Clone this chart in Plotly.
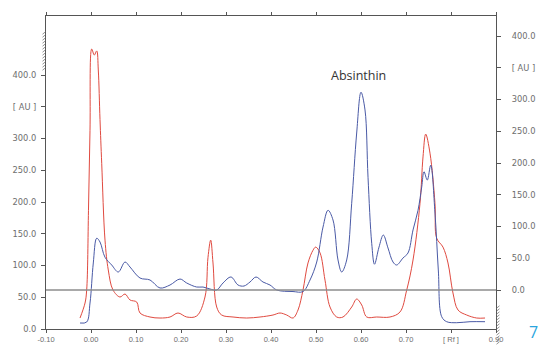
import plotly.graph_objects as go

# Red track (Rf, AU)
red_x = [-0.0244, -0.0133, -0.0096, -0.0056, -0.0022, 0.0016, 0.0073, 0.0127, 0.0162, 0.0200, 0.0238,
         0.0311, 0.0384, 0.0489, 0.0644, 0.0756, 0.0867, 0.1016, 0.1089, 0.1311, 0.1533, 0.1756,
         0.1933, 0.2127, 0.2349, 0.2533, 0.2600, 0.2660, 0.2711, 0.2793, 0.2904, 0.3156, 0.3460,
         0.3756, 0.4044, 0.4200, 0.4349, 0.4489, 0.4600, 0.4711, 0.4822, 0.4933, 0.4993, 0.5089,
         0.5200, 0.5311, 0.5460, 0.5600, 0.5793, 0.5904, 0.6016, 0.6127, 0.6349, 0.6644, 0.6867,
         0.7016, 0.7156, 0.7311, 0.7378, 0.7438, 0.7533, 0.7644, 0.7682, 0.7822, 0.7933, 0.8044,
         0.8156, 0.8349, 0.8571, 0.8756]
red_y = [17.3, 40.9, 61.4, 187, 313, 441, 431.5, 438, 408, 330, 261,
         140, 93, 61.4, 50.4, 55.1, 45.7, 42.5, 25.2, 18.9, 17.3, 18.9,
         25.2, 18.9, 20.5, 50.4, 113, 140, 104, 34.6, 22, 18.9, 17.3,
         18.9, 22, 25.2, 22, 17.3, 29.9, 61.4, 104, 124, 129, 120,
         77, 34.6, 18.9, 18.9, 34.6, 47.2, 37.8, 18.9, 18.9, 18.9, 26.8,
         61.4, 108.7, 198, 271, 307, 277, 198, 143, 129, 104, 56.7,
         29.9, 22, 17.3, 17.3]

# Blue track (Rf, AU)
blue_x = [-0.0244, -0.0096, -0.0022, 0.0051, 0.0127, 0.0200, 0.0311, 0.0460, 0.0607, 0.0756, 0.0867,
          0.1089, 0.1311, 0.1533, 0.1756, 0.1978, 0.2127, 0.2349, 0.2489, 0.2644, 0.2793, 0.2933,
          0.3111, 0.3267, 0.3400, 0.3533, 0.3667, 0.3822, 0.3978, 0.4127, 0.4489, 0.4711, 0.4867,
          0.5016, 0.5156, 0.5267, 0.5378, 0.5489, 0.5571, 0.5682, 0.5793, 0.5904, 0.6000, 0.6089,
          0.6156, 0.6238, 0.6300, 0.6400, 0.6496, 0.6600, 0.6711, 0.6793, 0.6933, 0.7044, 0.7156,
          0.7267, 0.7349, 0.7400, 0.7473, 0.7549, 0.7644, 0.7718, 0.7793, 0.7904, 0.8127, 0.8422,
          0.8756]
blue_y = [9.4, 11, 40.9, 104, 143, 137, 113, 100.8, 89.8, 105.5, 97.6,
          80.3, 77.2, 64.6, 69.3, 78.7, 72.4, 66.1, 66.1, 63, 61.4, 72.4,
          81.9, 69.3, 67.7, 74, 81.9, 74, 69.3, 61.4, 59, 59, 77.2,
          105.5, 160.6, 187, 171.7, 108.7, 89.8, 108.7, 198, 308.7, 373, 345,
          239, 135, 102, 129, 148, 127.6, 105.5, 100.8, 111.8, 119.7, 156,
          187, 223.6, 247.7, 234.6, 258, 182.7, 93, 19.4, 11.5, 9.9, 11.5,
          11.5]

x_ticks = [-0.10, 0.00, 0.10, 0.20, 0.30, 0.40, 0.50, 0.60, 0.70, 0.80, 0.90]
x_labels = ["-0.10", "0.00", "0.10", "0.20", "0.30", "0.40", "0.50", "0.60", "0.70", "[ Rf ]", "0.90"]
y_ticks = [0, 50, 100, 150, 200, 250, 300, 350, 400]
y_labels = ["0.0", "50.0", "100.0", "150.0", "200.0", "250.0", "300.0", "[ AU ]", "400.0"]

AX = "#555555"
LBL = "#6e6e6e"
TFX = dict(family="Liberation Sans, Arial, sans-serif", size=7.5, color=LBL)
TFY = dict(family="DejaVu Sans, Verdana, sans-serif", size=8.3, color=LBL)

fig = go.Figure()
fig.add_trace(go.Scatter(x=red_x, y=red_y, mode="lines", line=dict(color="#e04a40", width=1),
                         line_shape="spline", showlegend=False, hoverinfo="skip"))
fig.add_trace(go.Scatter(x=blue_x, y=blue_y, mode="lines", line=dict(color="#4a5aa6", width=1),
                         line_shape="spline", showlegend=False, hoverinfo="skip"))
# invisible trace to activate right axis
fig.add_trace(go.Scatter(x=[0.9], y=[0], yaxis="y2", mode="markers", marker=dict(opacity=0),
                         showlegend=False, hoverinfo="skip"))

# baseline of right scale
fig.add_shape(type="line", xref="paper", x0=0, x1=1, yref="y2", y0=0, y1=0,
              line=dict(color="#8c8c8c", width=1.5))

# hatch marks on axes
W, H = 450.0, 313.0
for i in range(13):
    py = 17 + i * 3.0
    fig.add_shape(type="line", xref="paper", yref="paper",
                  x0=-3.5 / W, x1=-0.5 / W, y0=1 - (py + 1.2) / H, y1=1 - (py - 1.2) / H,
                  line=dict(color="#777777", width=0.8))
for i in range(13):
    py = 291 + i * 3.0
    fig.add_shape(type="line", xref="paper", yref="paper",
                  x0=1 + 0.5 / W, x1=1 + 3.5 / W, y0=1 - (py + 1.2) / H, y1=1 - (py - 1.2) / H,
                  line=dict(color="#777777", width=0.8))

fig.add_annotation(text="Absinthin", xref="x", yref="y", x=0.594, y=400, showarrow=False,
                   font=dict(family="Open Sans, sans-serif", size=12.5, color="#333333"))
fig.add_annotation(text="7", xref="paper", yref="paper", x=1.068, y=-16.0 / H, xanchor="left",
                   yanchor="bottom", showarrow=False,
                   font=dict(family="Open Sans, sans-serif", size=16, color="#2aa5de"))

fig.update_layout(
    width=543, height=345,
    margin=dict(l=46, r=47, t=16, b=16, pad=0),
    paper_bgcolor="white", plot_bgcolor="white",
    xaxis=dict(range=[-0.10, 0.90], tickvals=x_ticks, ticktext=x_labels, showgrid=False,
               zeroline=False, showline=True, linecolor=AX, linewidth=1, mirror="ticks",
               ticks="outside", ticklen=3, tickcolor=AX, tickfont=TFX, automargin=False),
    yaxis=dict(range=[0, 493], tickvals=y_ticks, ticktext=y_labels, showgrid=False,
               zeroline=False, showline=True, linecolor=AX, linewidth=1,
               ticks="outside", ticklen=4, tickcolor=AX, tickfont=TFY, ticklabelstandoff=3,
               automargin=False),
    yaxis2=dict(range=[-61.4, 431.6], overlaying="y", side="right", tickvals=y_ticks,
                ticktext=y_labels, showgrid=False, zeroline=False, showline=True,
                linecolor=AX, linewidth=1, ticks="outside", ticklen=4, tickcolor=AX,
                tickfont=TFY, ticklabelstandoff=9, automargin=False),
)

fig.write_html("out.html")
